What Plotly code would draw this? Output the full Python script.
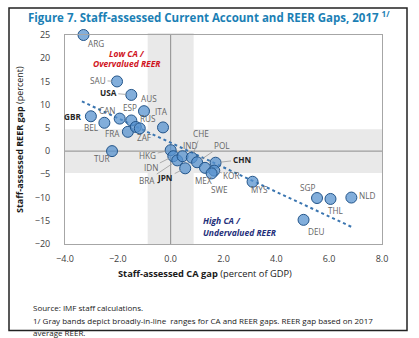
import plotly.graph_objects as go

# Staff-assessed gaps, 2017
countries = ["ARG", "SAU", "USA", "AUS", "ITA", "ESP", "CAN", "GBR", "BEL", "FRA",
             "RUS", "ZAF", "TUR", "HKG", "IDN", "BRA", "IND", "JPN", "CHE", "POL",
             "MEX", "CHN", "KOR", "SWE", "MYS", "SGP", "THL", "NLD", "DEU"]
ca_gap = [-3.3, -2.03, -1.49, -1.01, -0.29, -1.49, -1.93, -3.02, -2.51, -1.62,
          -1.32, -1.17, -2.22, 0.0, 0.1, 0.25, 0.45, 0.55, 0.8, 1.0,
          1.3, 1.7, 1.65, 1.55, 3.1, 5.54, 6.05, 6.84, 5.03]
reer_gap = [25.0, 15.0, 12.1, 8.6, 5.1, 6.6, 7.0, 7.5, 6.1, 4.15,
            5.2, 4.9, 0.0, 0.2, -1.1, -2.0, -1.1, -3.7, -1.4, -2.4,
            -3.6, -2.5, -4.2, -4.8, -6.6, -10.1, -10.3, -10.0, -14.8]
bold_labels = {"USA", "GBR", "JPN", "CHN"}

# Fitted line end points
trend_x = [-3.36, 6.84]
trend_y = [10.7, -16.3]

# Broadly-in-line ranges
ca_band = [-0.87, 0.87]
reer_band = [-4.7, 4.7]

x_ticks = [-4, -2, 0, 2, 4, 6, 8]
y_ticks = [25, 20, 15, 10, 5, 0, -5, -10, -15, -20]

# label placement: (dx, dy) in pixels, leader line flag
label_pos = {
    "ARG": (13, 8, False), "SAU": (-19, -1, True), "USA": (-23, -2, True),
    "AUS": (5, -13, False), "ITA": (-2, -16, False), "ESP": (-1, -13, False),
    "CAN": (-12, -8, True), "GBR": (-18, 0, False), "BEL": (-13, 5, False),
    "FRA": (-15, 2, False), "RUS": (12, -8, False), "ZAF": (5, 9, False),
    "TUR": (-10, 7, False), "HKG": (-23, 5, True), "IDN": (-22, 11, True),
    "BRA": (-30, 20, True), "IND": (7, -11, True), "JPN": (-20, 10, True),
    "CHE": (9, -24, True), "POL": (25, -17, True), "MEX": (-2, 13, False),
    "CHN": (26, -3, True), "KOR": (17, 5, True), "SWE": (8, 16, False),
    "MYS": (7, 8, False), "SGP": (-10, -11, False), "THL": (6, 12, False),
    "NLD": (16, -2, False), "DEU": (12, 12, False),
}

W, H = 419, 338
L, R, T, B = 65, 37, 35, 94
PW, PH = W - L - R, H - T - B


def px(x):
    return (x - L) / PW


def py(y):
    return (H - B - y) / PH


FONT = "Open Sans"
fig = go.Figure()

# gray bands
fig.add_shape(type="rect", xref="paper", yref="y", x0=0, x1=1,
              y0=reer_band[0], y1=reer_band[1], fillcolor="#e9e9e9",
              line_width=0, layer="below")
fig.add_shape(type="rect", xref="x", yref="paper", x0=ca_band[0], x1=ca_band[1],
              y0=0, y1=1.01, fillcolor="#e9e9e9", line_width=0, layer="below")
# zero lines
fig.add_shape(type="line", xref="paper", yref="y", x0=0, x1=1, y0=0, y1=0,
              line=dict(color="#8c8c8c", width=1), layer="below")
fig.add_shape(type="line", xref="x", yref="paper", x0=0, x1=0, y0=0, y1=1,
              line=dict(color="#8c8c8c", width=1), layer="below")

fig.add_trace(go.Scatter(
    x=trend_x, y=trend_y, mode="lines",
    line=dict(color="#3a75b0", width=2, dash="dot"), hoverinfo="skip"))

fig.add_trace(go.Scatter(
    x=ca_gap, y=reer_gap, mode="markers", cliponaxis=False,
    marker=dict(size=11, color="rgba(86,146,206,0.74)",
                line=dict(color="#23558a", width=1)),
    text=countries))

annotations = []
for c, xv, yv in zip(countries, ca_gap, reer_gap):
    dx, dy, leader = label_pos[c]
    bold = c in bold_labels
    annotations.append(dict(
        x=xv, y=yv, xref="x", yref="y", ax=dx, ay=dy,
        text=f"<b>{c}</b>" if bold else c, showarrow=True, arrowhead=0,
        arrowwidth=0.8, standoff=5,
        arrowcolor="#9a9a9a" if leader else "rgba(0,0,0,0)",
        font=dict(family=FONT, size=8.2, color="#262626" if bold else "#666666")))


def note(xp, yp, text, size, color, xanchor="center", angle=0):
    return dict(xref="paper", yref="paper", x=px(xp), y=py(yp), showarrow=False,
                xanchor=xanchor, yanchor="middle", textangle=angle, text=text,
                font=dict(family=FONT, size=size, color=color))


# quadrant notes
annotations += [
    note(127, 53, "<b><i>Low CA /</i></b>", 8.5, "#d0121b"),
    note(127, 64, "<b><i>Overvalued REER</i></b>", 8.5, "#d0121b"),
    note(201, 220, "<b><i>High CA /</i></b>", 8.5, "#1f2f7a", "left"),
    note(201, 232, "<b><i>Undervalued REER</i></b>", 8.5, "#1f2f7a", "left"),
]

# titles and notes
annotations += [
    note(209, 16, "<b>Figure 7. Staff-assessed Current Account and REER Gaps, 2017 <sup>1/</sup></b>",
         11.5, "#1b7fb5"),
    note(205, 273, "<b>Staff-assessed CA gap</b> (percent of GDP)", 9.3, "#1a1a1a"),
    note(19, 139, "<b>Staff-assessed REER gap</b> (percent)", 9, "#1a1a1a", angle=-90),
    note(31, 307, "Source: IMF staff calculations.", 8, "#1a1a1a", "left"),
    note(31, 320, "1/ Gray bands depict broadly-in-line  ranges for CA and REER gaps. "
         "REER gap based on 2017", 8, "#1a1a1a", "left"),
    note(31, 332, "average REER.", 8, "#1a1a1a", "left"),
]

# outer frame
fig.add_shape(type="rect", xref="paper", yref="paper", x0=px(9), x1=px(407),
              y0=py(330.5), y1=py(8), line=dict(color="#222222", width=1.5))

fig.update_layout(
    width=W, height=H, margin=dict(l=L, r=R, t=T, b=B),
    paper_bgcolor="white", plot_bgcolor="white", showlegend=False,
    annotations=annotations,
    font=dict(family=FONT, size=9, color="#404040"),
    xaxis=dict(range=[-4, 8], tickvals=x_ticks, tickformat=".1f",
               showgrid=False, zeroline=False, showline=True, mirror=True,
               linecolor="#a6a6a6", linewidth=1, ticks="", ticklabelstandoff=6,
               tickfont=dict(family=FONT, size=9, color="#404040")),
    yaxis=dict(range=[-20, 25], tickvals=y_ticks, showgrid=False, zeroline=False,
               showline=True, mirror=True, linecolor="#a6a6a6", linewidth=1,
               ticks="", ticklabelstandoff=12,
               tickfont=dict(family=FONT, size=9, color="#404040")),
)

fig.write_html("out.html")
